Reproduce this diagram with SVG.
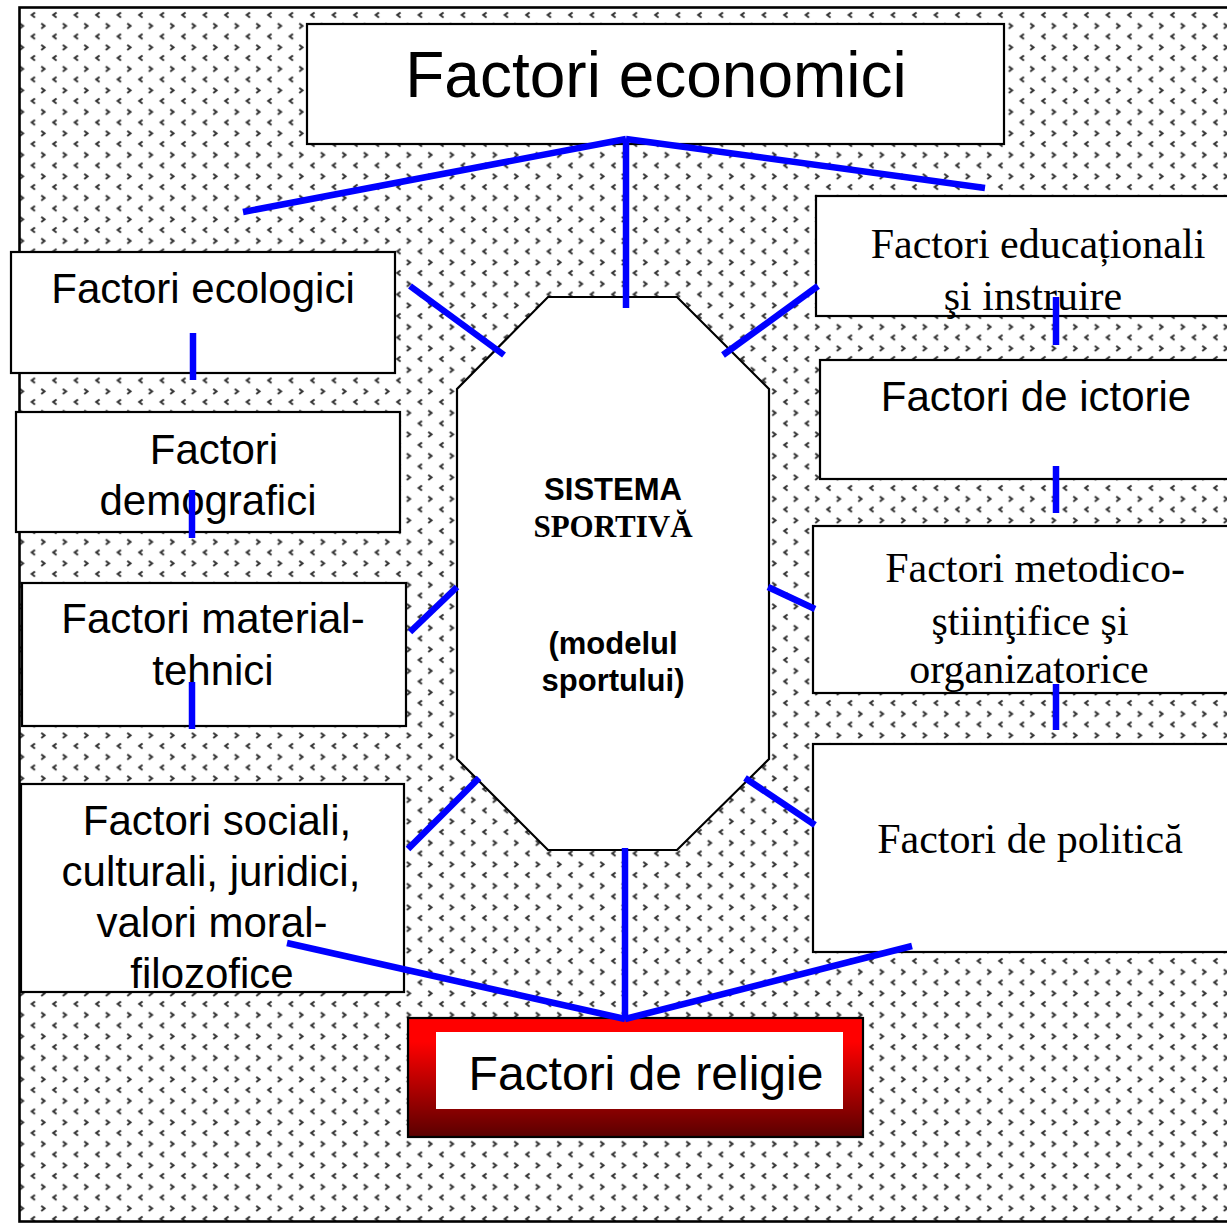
<svg xmlns="http://www.w3.org/2000/svg" width="1227" height="1224" viewBox="0 0 1227 1224">
<style>
.box{fill:#fff;stroke:#000;stroke-width:2.2}
.sans{font-family:"Liberation Sans",Arial,sans-serif;fill:#000;text-anchor:middle}
.serif{font-family:"Liberation Serif","Times New Roman",serif;fill:#000;text-anchor:middle}
.t42{font-size:42px}
.con line{stroke:#0000ff;stroke-width:6.5;stroke-linecap:butt}
</style>
<defs>
<pattern id="divot" patternUnits="userSpaceOnUse" x="5" y="10" width="21.5" height="21.5">
<polyline points="8.5,2.4 5.2,5 8.5,7.6" fill="none" stroke="#333" stroke-width="2"/>
<polyline points="14.8,13.4 18.1,16 14.8,18.6" fill="none" stroke="#333" stroke-width="2"/>
</pattern>
<linearGradient id="red" x1="0" y1="0" x2="0" y2="1">
<stop offset="0" stop-color="#ff0000"/>
<stop offset="0.2" stop-color="#ff0000"/>
<stop offset="1" stop-color="#5a0000"/>
</linearGradient>
</defs>
<rect x="0" y="0" width="1227" height="1224" fill="#fff"/>
<rect id="frame" x="19.5" y="7.5" width="1220" height="1214" fill="url(#divot)" stroke="#000" stroke-width="2.6"/>

<g id="economici">
<rect class="box" x="307" y="24" width="697" height="120"/>
<text class="sans" x="656" y="97" font-size="64">Factori economici</text>
</g>
<g id="ecologici">
<rect class="box" x="11" y="252" width="384" height="121"/>
<text class="sans t42" x="203" y="303">Factori ecologici</text>
</g>
<g id="demografici">
<rect class="box" x="16" y="412" width="384" height="120"/>
<text class="sans t42" x="214" y="464">Factori</text>
<text class="sans t42" x="208" y="515">demografici</text>
</g>
<g id="material">
<rect class="box" x="22" y="583" width="384" height="143"/>
<text class="sans t42" x="213" y="633">Factori material-</text>
<text class="sans t42" x="213" y="685">tehnici</text>
</g>
<g id="sociali">
<rect class="box" x="21" y="784" width="383" height="208"/>
<text class="sans t42" x="217" y="835">Factori sociali,</text>
<text class="sans t42" x="211" y="886">culturali, juridici,</text>
<text class="sans t42" x="212" y="937">valori moral-</text>
<text class="sans t42" x="212" y="988">filozofice</text>
</g>
<g id="religie">
<rect x="408" y="1018" width="455" height="119" fill="url(#red)" stroke="#000" stroke-width="2.2"/>
<rect x="436" y="1032" width="407" height="77" fill="#fff"/>
<text class="sans" x="646" y="1090" font-size="48">Factori de religie</text>
</g>
<g id="educationali">
<rect class="box" x="816" y="196" width="430" height="120"/>
<text class="serif t42" x="1038" y="258">Factori educaționali</text>
<text class="serif t42" x="1033" y="310">şi instruire</text>
</g>
<g id="ictorie">
<rect class="box" x="820" y="360" width="430" height="119"/>
<text class="sans t42" x="1036" y="411">Factori de ictorie</text>
</g>
<g id="metodico">
<rect class="box" x="813" y="526" width="430" height="167"/>
<text class="serif t42" x="1035" y="582">Factori metodico-</text>
<text class="serif t42" x="1030" y="635">ştiinţifice şi</text>
<text class="serif t42" x="1029" y="683">organizatorice</text>
</g>
<g id="politica">
<rect class="box" x="813" y="744" width="430" height="208"/>
<text class="serif t42" x="1030" y="853">Factori de politică</text>
</g>
<g id="sistema">
<polygon points="548,297 677,297 769,389 769,759 677,850 548,850 457,759 457,389" fill="#fff" stroke="#000" stroke-width="2.2"/>
<text class="sans" x="613" y="500" font-size="31" font-weight="bold">SISTEMA</text>
<text class="serif" x="613" y="537" font-size="31" font-weight="bold">SPORTIVĂ</text>
<text class="sans" x="613" y="654" font-size="31" font-weight="bold">(modelul</text>
<text class="sans" x="613" y="691" font-size="31" font-weight="bold">sportului)</text>
</g>

<g id="connectors" class="con">
<line x1="626" y1="139" x2="243" y2="212"/>
<line x1="626" y1="139" x2="985" y2="188"/>
<line x1="626" y1="139" x2="626" y2="308"/>
<line x1="410" y1="286" x2="504" y2="355"/>
<line x1="723" y1="355" x2="818" y2="286"/>
<line x1="193" y1="333" x2="193" y2="380"/>
<line x1="192" y1="490" x2="192" y2="538"/>
<line x1="410" y1="632" x2="457" y2="587"/>
<line x1="192" y1="682" x2="192" y2="729"/>
<line x1="408" y1="849" x2="479" y2="778"/>
<line x1="768" y1="587" x2="815" y2="609"/>
<line x1="745" y1="778" x2="815" y2="825"/>
<line x1="1056" y1="297" x2="1056" y2="345"/>
<line x1="1056" y1="466" x2="1056" y2="513"/>
<line x1="1056" y1="684" x2="1056" y2="730"/>
<line x1="625" y1="848" x2="625" y2="1019"/>
<line x1="287" y1="943" x2="625" y2="1019"/>
<line x1="912" y1="946" x2="625" y2="1019"/>
</g>
</svg>
